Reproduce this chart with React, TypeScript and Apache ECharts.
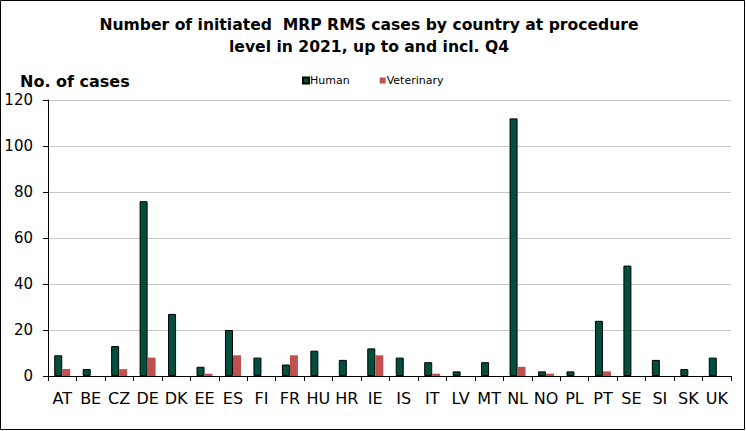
import React, { useEffect, useRef } from "react";
import * as echarts from "echarts";

const countries = ["AT", "BE", "CZ", "DE", "DK", "EE", "ES", "FI", "FR", "HU", "HR", "IE", "IS", "IT", "LV", "MT", "NL", "NO", "PL", "PT", "SE", "SI", "SK", "UK"];
const human = [9, 3, 13, 76, 27, 4, 20, 8, 5, 11, 7, 12, 8, 6, 2, 6, 112, 2, 2, 24, 48, 7, 3, 8];
const veterinary = [3, 0, 3, 8, 0, 1, 9, 0, 9, 0, 0, 9, 0, 1, 0, 0, 4, 1, 0, 2, 0, 0, 0, 0];
const yTicks = { min: 0, max: 120, interval: 20 };

const FONT = "'DejaVu Sans', Verdana, sans-serif";

export default function App() {
  const ref = useRef<HTMLDivElement>(null);
  useEffect(() => {
    document.body.style.margin = "0";
    if (!ref.current) return;
    const chart = echarts.init(ref.current, null, { renderer: "svg" });
    chart.setOption({
      animation: false,
      backgroundColor: "#ffffff",
      title: [
        {
          text: "Number of initiated  MRP RMS cases by country at procedure\nlevel in 2021, up to and incl. Q4",
          left: 369,
          top: 14,
          padding: 0,
          textAlign: "center",
          textStyle: { fontFamily: FONT, fontSize: 15.6, fontWeight: "bold", color: "#000", lineHeight: 22 },
        },
        {
          text: "No. of cases",
          left: 20,
          top: 72,
          padding: 0,
          textStyle: { fontFamily: FONT, fontSize: 16, fontWeight: "bold", color: "#000", lineHeight: 18 },
        },
      ],
      legend: {
        left: 302,
        top: 75,
        padding: 0,
        icon: "rect",
        itemWidth: 6,
        itemHeight: 6,
        itemGap: 30,
        textStyle: { fontFamily: FONT, fontSize: 11, color: "#000", padding: [0, 0, 0, -4] },
        data: ["Human", "Veterinary"],
      },
      grid: { left: 48, right: 15, top: 100, bottom: 55, containLabel: false },
      xAxis: {
        type: "category",
        data: countries,
        boundaryGap: true,
        axisLine: { lineStyle: { color: "#000", width: 1 } },
        axisTick: { show: true, length: 5, lineStyle: { color: "#000" } },
        axisLabel: { fontFamily: FONT, fontSize: 16, color: "#000", margin: 14, interval: 0 },
        splitLine: { show: false },
      },
      yAxis: {
        type: "value",
        min: yTicks.min,
        max: yTicks.max,
        interval: yTicks.interval,
        axisLine: { show: true, lineStyle: { color: "#000", width: 1 } },
        axisTick: { show: true, length: 5, lineStyle: { color: "#000" } },
        axisLabel: { fontFamily: FONT, fontSize: 15, color: "#000", margin: 15 },
        splitLine: { show: true, lineStyle: { color: "#c8c8c8", width: 1 } },
      },
      series: [
        {
          name: "Human",
          type: "bar",
          data: human,
          barWidth: 8,
          barGap: "0%",
          itemStyle: { color: "#024f3e", borderColor: "#000", borderWidth: 1 },
        },
        {
          name: "Veterinary",
          type: "bar",
          data: veterinary,
          barWidth: 8,
          barGap: "0%",
          itemStyle: { color: "#c0504d" },
        },
      ],
      graphic: [
        {
          type: "rect",
          shape: { x: 0.5, y: 0.5, width: 744, height: 429 },
          style: { fill: "none", stroke: "#000", lineWidth: 1 },
          silent: true,
        },
      ],
    });
    return () => chart.dispose();
  }, []);
  return <div ref={ref} style={{ width: 746, height: 431 }} />;
}
